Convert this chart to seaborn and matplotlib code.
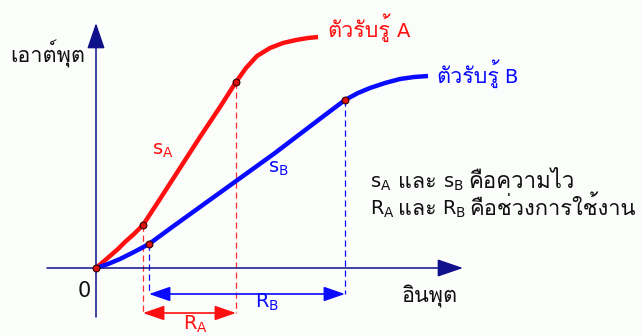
import matplotlib
matplotlib.use('Agg')
import matplotlib.pyplot as plt
import seaborn as sns
import pandas as pd

sns.set_theme(style='white')
# ไทยใช้ Loma, ละตินใช้ DejaVu
plt.rcParams['font.family'] = ['DejaVu Sans', 'Loma']
plt.rcParams['mathtext.fontset'] = 'dejavusans'

# จุดบนเส้นโค้ง อ่านจากภาพ (x ไปทางขวา, y ลงล่าง)
sensor_a_x = [96, 103, 110, 118, 125, 134, 143, 160, 180, 200, 220, 236, 246, 257, 270, 283, 296, 308, 318]
sensor_a_y = [268, 262, 256, 249, 242, 234, 225, 199, 168, 137, 107, 82, 68, 56, 48, 43, 40, 38, 37]
sensor_b_x = [96, 108, 120, 134, 149, 175, 200, 225, 250, 275, 300, 325, 345, 358, 370, 385, 400, 414, 428]
sensor_b_y = [268, 264, 259, 252, 244, 225, 207, 189, 171, 153, 134, 115, 100, 93, 88, 83, 79, 77, 76]

# ปลายช่วงการใช้งานของแต่ละตัว
range_a_x = [143, 236]
range_a_y = [225, 82]
range_b_x = [149, 345]
range_b_y = [244, 100]
origin_x = [96]
origin_y = [268]

sensor_word = 'ตัวรับรู้'
label_out = 'เอาต์พุต'
label_in = 'อินพุต'
and_word = 'และ'
note_1 = ['s_A', 's_B', 'คือความไว']
note_2 = ['R_A', 'R_B', 'คือช่วงการใช้งาน']

RED = '#ff1010'
BLUE = '#0a0aff'
NAVY = '#10108a'
INK = '#111111'
TH = ['Loma']
FS = 14
FS_TH = 15.5

fig = plt.figure(figsize=(6.41, 3.36), dpi=100, facecolor='#fbfdfb')
ax = fig.add_axes([0, 0, 1, 1])
ax.set_facecolor('#fbfdfb')
ax.set_xlim(0, 641)
ax.set_ylim(336, 0)
ax.axis('off')


def arrow(x0, y0, x1, y1, color, lw, hl, hw, style='-|>'):
    ax.annotate('', xy=(x1, y1), xytext=(x0, y0),
                arrowprops=dict(arrowstyle=f'{style},head_length={hl},head_width={hw}',
                                color=color, lw=lw, shrinkA=0, shrinkB=0,
                                mutation_scale=1))


def thai(x, y, s, color=INK, fs=FS_TH):
    ax.text(x, y, s, color=color, fontsize=fs, family=TH, va='baseline', ha='left')


def latin(x, y, s, color=INK, fs=FS):
    ax.text(x, y, r'$\mathregular{%s}$' % s, color=color, fontsize=fs, va='baseline', ha='left')


# แกน
arrow(96, 317, 96, 23, NAVY, 1.1, 16, 5.5)
arrow(47, 268, 463, 268, NAVY, 1.1, 16, 5.5)

# เส้นประลงมาที่ช่วง
ax.vlines(range_a_x, range_a_y, [313, 313], colors='#ff3030', linestyles=(0, (5, 3)), lw=0.9)
ax.vlines(range_b_x, range_b_y, [294, 294], colors=BLUE, linestyles=(0, (5, 3)), lw=0.9)

# เส้นโค้ง
df_a = pd.DataFrame({'x': sensor_a_x, 'y': sensor_a_y})
df_b = pd.DataFrame({'x': sensor_b_x, 'y': sensor_b_y})
sns.lineplot(data=df_a, x='x', y='y', sort=False, estimator=None, color=RED, lw=3.2, ax=ax,
             solid_capstyle='butt')
sns.lineplot(data=df_b, x='x', y='y', sort=False, estimator=None, color=BLUE, lw=3.2, ax=ax,
             solid_capstyle='butt')

# ลูกศรช่วง
arrow(range_a_x[0], 313, range_a_x[1], 313, RED, 1.2, 13, 4.5, '<|-|>')
arrow(range_b_x[0], 294, range_b_x[1], 294, BLUE, 1.2, 13, 4.5, '<|-|>')

# จุด
pts = pd.DataFrame({'x': origin_x + range_a_x + range_b_x, 'y': origin_y + range_a_y + range_b_y})
sns.scatterplot(data=pts, x='x', y='y', color='#e01010', edgecolor='#300000', linewidth=0.8,
                s=24, ax=ax, zorder=5)

# ชื่อเส้น
thai(327, 37, sensor_word, RED)
latin(396, 37, 'A', RED)
thai(436, 83, sensor_word, BLUE)
latin(504, 83, 'B', BLUE)

thai(10, 63, label_out)
thai(402, 302, label_in)
latin(77, 297, '0', fs=FS + 1)

latin(152, 155, 's_A', RED)
latin(268, 173, 's_B', BLUE)
latin(183, 330, 'R_A', RED)
latin(255, 308, 'R_B', BLUE)

# คำอธิบาย
latin(370, 188, note_1[0])
thai(398, 188, and_word)
latin(443, 188, note_1[1])
thai(468, 188, note_1[2], fs=16)
latin(370, 215, note_2[0])
thai(398, 215, and_word)
latin(442, 215, note_2[1])
thai(469, 215, note_2[2], fs=15.8)

fig.savefig('out.png', dpi=100, facecolor=fig.get_facecolor())
